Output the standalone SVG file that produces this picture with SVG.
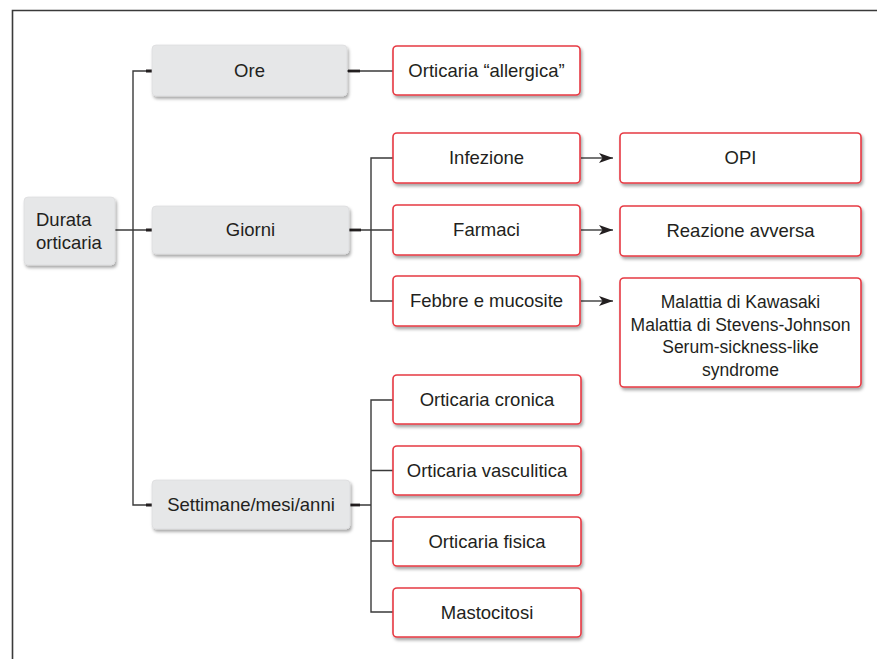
<svg xmlns="http://www.w3.org/2000/svg" width="877" height="659" viewBox="0 0 877 659">
<defs>
<filter id="sh" x="-10%" y="-20%" width="130%" height="150%">
<feDropShadow dx="1.5" dy="2.5" stdDeviation="1.5" flood-color="#000" flood-opacity="0.35"/>
</filter>
<marker id="arr" markerUnits="userSpaceOnUse" markerWidth="15" markerHeight="13" refX="14" refY="6.5" orient="auto">
<path d="M0,1.5 L14,6.5 L0,11.5 L3.5,6.5 Z" fill="#231f20"/>
</marker>
</defs>
<style>
.g{fill:#e6e7e8;stroke:#d8d9da;stroke-width:0.6;filter:url(#sh)}
.r{fill:#fff;stroke:#e63a43;stroke-width:1.6;filter:url(#sh)}
text{font-family:"Liberation Sans",Arial,sans-serif;font-size:18.5px;fill:#231f20;text-anchor:middle}
.sm{font-size:17.5px}
.ln{stroke:#3a3a3a;stroke-width:1.4;fill:none}
.tk{stroke:#231f20;stroke-width:2.8;fill:none}
</style>
<rect width="877" height="659" fill="#fff"/>
<path d="M12.5,659 V10.5 H877" fill="none" stroke="#3a3a3a" stroke-width="1.6"/>
<g id="connectors">
<path class="ln" d="M152,71 H133 V505 H152"/>
<path class="ln" d="M115,230 H152"/>
<path class="tk" d="M146,71 H152 M146,230 H152 M146,505 H152"/>
<path class="ln" d="M347,71 H393"/>
<path class="tk" d="M348,71 H360"/>
<path class="ln" d="M349,230 H371 M393,158 H371 V301 H393 M371,230 H393"/>
<path class="tk" d="M349,230 H361"/>
<path class="ln" d="M350,505 H371 M393,400 H371 V612 H393 M371,470.5 H393 M371,541 H393"/>
<path class="tk" d="M350,505 H360"/>
<path class="ln" d="M581,158 H613" marker-end="url(#arr)"/>
<path class="ln" d="M581,230 H613" marker-end="url(#arr)"/>
<path class="ln" d="M581,301 H613" marker-end="url(#arr)"/>
</g>
<g id="durata"><rect class="g" x="24" y="197" width="91" height="68" rx="4"/><text x="36" y="226" style="text-anchor:start">Durata</text><text x="36" y="249" style="text-anchor:start">orticaria</text></g>
<g id="ore"><rect class="g" x="152" y="45" width="195" height="51" rx="4"/><text x="249.5" y="77">Ore</text></g>
<g id="giorni"><rect class="g" x="152" y="206" width="197" height="48" rx="4"/><text x="250.5" y="236">Giorni</text></g>
<g id="settimane"><rect class="g" x="152" y="480" width="198" height="49" rx="4"/><text x="251" y="511">Settimane/mesi/anni</text></g>
<g id="allergica"><rect class="r" x="393" y="46" width="187" height="49" rx="4"/><text x="486.5" y="77">Orticaria “allergica”</text></g>
<g id="infezione"><rect class="r" x="393" y="133" width="187" height="50" rx="4"/><text x="486.5" y="164">Infezione</text></g>
<g id="farmaci"><rect class="r" x="393" y="205" width="187" height="50" rx="4"/><text x="486.5" y="236">Farmaci</text></g>
<g id="febbre"><rect class="r" x="393" y="276" width="187" height="50" rx="4"/><text x="486.5" y="307">Febbre e mucosite</text></g>
<g id="opi"><rect class="r" x="620" y="133" width="241" height="50" rx="4"/><text x="740.5" y="164">OPI</text></g>
<g id="reazione"><rect class="r" x="620" y="206" width="241" height="50" rx="4"/><text x="740.5" y="237">Reazione avversa</text></g>
<g id="malattia"><rect class="r" x="620" y="278" width="241" height="109" rx="4"/><text class="sm" x="740.5" y="308">Malattia di Kawasaki</text><text class="sm" x="740.5" y="330.5">Malattia di Stevens-Johnson</text><text class="sm" x="740.5" y="353">Serum-sickness-like</text><text class="sm" x="740.5" y="375.5">syndrome</text></g>
<g id="cronica"><rect class="r" x="393" y="375" width="188" height="49" rx="4"/><text x="487" y="406">Orticaria cronica</text></g>
<g id="vasculitica"><rect class="r" x="393" y="446" width="188" height="49" rx="4"/><text x="487" y="477">Orticaria vasculitica</text></g>
<g id="fisica"><rect class="r" x="393" y="517" width="188" height="49" rx="4"/><text x="487" y="548">Orticaria fisica</text></g>
<g id="mastocitosi"><rect class="r" x="393" y="588" width="188" height="49" rx="4"/><text x="487" y="619">Mastocitosi</text></g>
</svg>
